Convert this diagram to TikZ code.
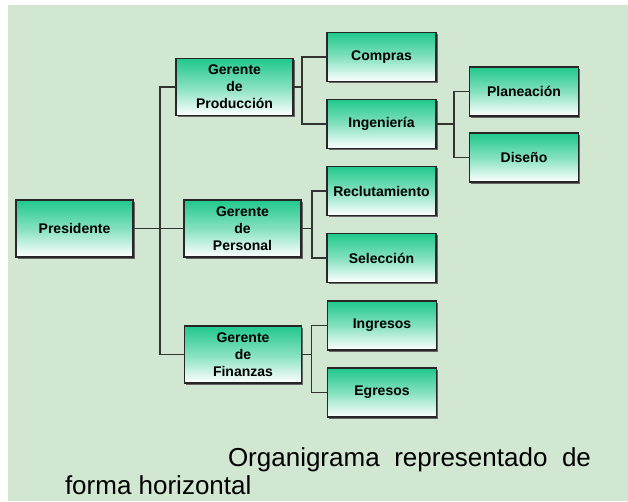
\documentclass[tikz,border=0pt]{standalone}
\usepackage{fontspec}
\setmainfont{Liberation Sans}
\usepackage{xcolor}
\usepackage{tikz}
\usetikzlibrary{positioning, shadows}
\definecolor{fondo}{RGB}{209,231,209}
\definecolor{verdecaja}{RGB}{32,200,140}

\tikzset{
  caja/.style={draw=black!85, line width=1.1pt, top color=verdecaja, bottom color=white,
    middle color=verdecaja!55!white,
    align=center, font=\bfseries\fontsize{14}{17}\selectfont, inner sep=2pt,
    drop shadow={shadow xshift=1.6pt, shadow yshift=-1.6pt, fill=black!60, opacity=1}},
  jefe/.style={caja, minimum width=117pt, minimum height=57pt},
  area/.style={caja, minimum width=109pt, minimum height=49pt},
  linea/.style={draw=black!80, line width=1.2pt}
}

\begin{document}
\begin{tikzpicture}[x=1pt, y=1pt, node distance=0pt, outer sep=0pt]
    \useasboundingbox (0,0) rectangle (628,501);
    \fill[white] (0,0) rectangle (628,501);
    \fill[fondo] (8,0) rectangle (628,496);

    % Presidente
    \node[jefe] (presidente) at (74.5,272.5) {Presidente};

    % Gerentes
    \node[jefe] (produccion) at (234.5,414) {Gerente\\de\\Producción};
    \node[jefe] (personal) at (242.5,272.5) {Gerente\\de\\Personal};
    \node[jefe] (finanzas) at (243,146.5) {Gerente\\de\\Finanzas};

    % Producción
    \node[area] (compras) at (381.5,444) {Compras};
    \node[area, below=18pt of compras] (ingenieria) {Ingeniería};
    \node[area] (planeacion) at (524,409.5) {Planeación};
    \node[area, below=17pt of planeacion] (diseno) {Diseño};

    % Personal
    \node[area] (reclutamiento) at (381.5,310) {Reclutamiento};
    \node[area, below=18pt of reclutamiento] (seleccion) {Selección};

    % Finanzas
    \node[area] (ingresos) at (382,175.5) {Ingresos};
    \node[area, below=18pt of ingresos] (egresos) {Egresos};

    % Lineas
    \draw[linea] (presidente.east) -- (personal.west);
    \draw[linea] (produccion.west) -- ++(-16,0) |- (finanzas.west);
    \draw[linea] (produccion.east) -- ++(9,0);
    \draw[linea] (compras.west) -| ([xshift=9pt]produccion.east) |- (ingenieria.west);
    \draw[linea] (ingenieria.east) -- ++(18,0);
    \draw[linea] (planeacion.west) -| ([xshift=18pt]ingenieria.east) |- (diseno.west);
    \draw[linea] (personal.east) -- ++(11,0);
    \draw[linea] (reclutamiento.west) -| ([xshift=11pt]personal.east) |- (seleccion.west);
    \draw[linea] (finanzas.east) -- ++(10,0);
    \draw[linea] (ingresos.west) -| ([xshift=10pt]finanzas.east) |- (egresos.west);

    % Titulo
    \node[anchor=base west, inner sep=0pt, font=\fontsize{26}{30}\selectfont] (titulo) at (228,35)
      {\makebox[363pt][s]{Organigrama representado de}};
    \node[anchor=base west, inner sep=0pt, font=\fontsize{26}{30}\selectfont] (titulob) at (65,7)
      {forma horizontal};
\end{tikzpicture}
\end{document}
